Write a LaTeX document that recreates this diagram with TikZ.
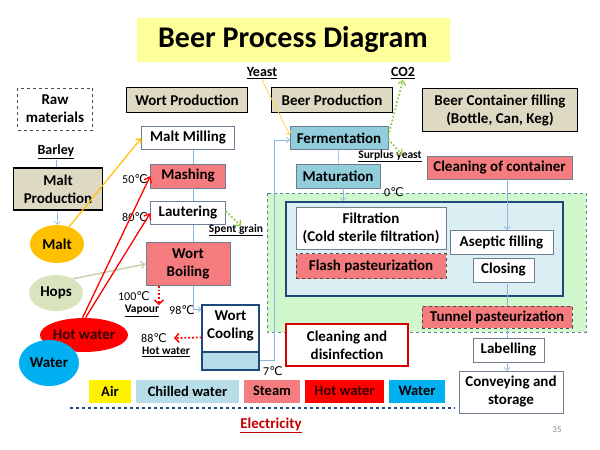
\documentclass[tikz,border=0pt]{standalone}
\usepackage{fontspec}
\setmainfont{Carlito}
\newfontfamily\dejavu{DejaVu Sans}
\usepackage{xcolor}
\usetikzlibrary{shapes.geometric}
\usetikzlibrary{positioning}
\usetikzlibrary{arrows.meta,calc}

\definecolor{tanfill}{RGB}{221,217,195}
\definecolor{steam}{RGB}{244,124,126}
\definecolor{fermblue}{RGB}{146,205,220}
\definecolor{chilled}{RGB}{183,222,232}
\definecolor{zonegreen}{RGB}{208,248,204}
\definecolor{sterilefill}{RGB}{219,238,244}
\definecolor{navy}{RGB}{31,73,125}
\definecolor{boxline}{RGB}{110,125,145}
\definecolor{flowblue}{RGB}{141,180,226}
\definecolor{maltorange}{RGB}{255,192,0}
\definecolor{hopsgreen}{RGB}{215,228,189}
\definecolor{hopsline}{RGB}{196,210,170}
\definecolor{waterblue}{RGB}{0,176,240}
\definecolor{titleyellow}{RGB}{255,255,153}
\definecolor{gasgreen}{RGB}{146,208,80}
\definecolor{elecred}{RGB}{192,0,0}

\newcommand{\degc}{{\dejavu ℃}}

\tikzset{
  every node/.style={font=\bfseries\fontsize{15}{18}\selectfont, align=center, inner sep=1pt},
  procbox/.style={draw=boxline, fill=white},
  stagebox/.style={draw=black, line width=1.6pt, fill=tanfill},
  steambox/.style={draw=boxline, fill=steam},
  pastbox/.style={draw=black!70, dashed, fill=steam},
  coldbox/.style={draw=boxline, fill=fermblue},
  ingr/.style={ellipse, inner sep=0pt},
  tag/.style={font=\bfseries\fontsize{11.5}{13}\selectfont},
  temp/.style={font=\fontsize{12}{13}\selectfont},
  keybox/.style={minimum height=23pt, font=\bfseries\fontsize{14.5}{17}\selectfont},
  flow/.style={draw=flowblue, line width=0.6pt, -{Straight Barb[length=3pt,width=6pt]}},
  hotline/.style={draw=red, line width=1.3pt, -{Straight Barb[length=5pt,width=8pt]}},
  vap/.style={draw=red, dotted, line width=1.8pt, -{Straight Barb[length=4pt,width=9pt,line width=1.5pt]}},
  gas/.style={draw=gasgreen, dotted, line width=1.8pt, -{Straight Barb[length=4pt,width=8pt,line width=1.3pt]}},
  coolbox/.style={draw=navy, line width=1.2pt, fill=white,
    path picture={\fill[chilled] ([yshift=18pt]path picture bounding box.south west) rectangle (path picture bounding box.south east);
      \draw[navy, line width=1.2pt] ([yshift=18pt]path picture bounding box.south west) -- ([yshift=18pt]path picture bounding box.south east);}}
}

\begin{document}
\begin{tikzpicture}[x=1pt,y=-1pt]
\useasboundingbox (0,0) rectangle (600,450);

% zones
\draw[draw=navy!70, dashed, line width=1pt, fill=zonegreen] (267,193) rectangle (586,332);
\node[draw=navy, line width=2.2pt, fill=sterilefill, minimum width=277pt, minimum height=94pt] (sterile) at (424.5,249) {};

\node[fill=titleyellow, minimum width=313pt, minimum height=44pt, font=\bfseries\fontsize{30}{34}\selectfont] (title) at (293,40) {Beer Process Diagram};
\node[font=\bfseries\fontsize{14}{16}\selectfont] (yeast) at (262,73) {\underline{Yeast}};
\node[font=\bfseries\fontsize{14}{16}\selectfont] (co2) at (403,73) {\underline{CO2}};

% headers
\node[draw=black!70, dashed, minimum width=75pt, minimum height=42pt] (raw) at (55,109) {Raw\\materials};
\node[stagebox, minimum width=121pt, minimum height=25pt] (wortprod) at (187,100) {Wort Production};
\node[stagebox, minimum width=121pt, minimum height=25pt] (beerprod) at (332,100) {Beer Production};
\node[stagebox, minimum width=155pt, minimum height=43pt] (container) at (500,110) {Beer Container filling\\(Bottle, Can, Keg)};

% raw materials
\node[font=\bfseries\fontsize{14}{16}\selectfont] (barley) at (56,152) {\underline{Barley}};
\node[stagebox, minimum width=89pt, minimum height=42pt] (maltprod) at (58,189) {Malt\\Production};
\node[ingr, fill=maltorange, minimum width=54pt, minimum height=38pt] (malt) at (57,244) {Malt};
\node[ingr, fill=hopsgreen, minimum width=54pt, minimum height=36pt] (hops) at (56,293) {Hops};
\node[ingr, fill=red, minimum width=74pt, minimum height=34pt, text=black!80!red] (hotwater) at (84,335) {Hot water};
\node[ingr, fill=waterblue, minimum width=60pt, minimum height=46pt] (water) at (49,363) {Water};

% wort production
\node[procbox, minimum width=93pt, minimum height=23pt] (milling) at (188,138) {Malt Milling};
\node[steambox, minimum width=75pt, minimum height=24pt] (mashing) at (188,176) {Mashing};
\node[procbox, minimum width=75pt, minimum height=23pt] (lautering) at (188,213) {Lautering};
\node[steambox, minimum width=84pt, minimum height=43pt] (boiling) at (188,264) {Wort\\Boiling};
\node[coolbox, minimum width=57pt, minimum height=65pt] (cooling) at (230.5,337.5) {};
\node (coolingtext) at (230.5,326) {Wort\\Cooling};

\node[temp] (t50) at (135,179) {50\degc};
\node[temp] (t80) at (135,217) {80\degc};
\node[temp] (t100) at (134,296) {100\degc};
\node[tag] (vapour) at (142,311) {\underline{Vapour}};
\node[temp] (t98) at (182,310) {98\degc};
\node[temp] (t88) at (154,338) {88\degc};
\node[tag] (hotout) at (166,352) {\underline{Hot water}};
\node[temp] (t7) at (273,371) {7\degc};
\node[tag] (spent) at (236,230) {\underline{Spent grain}};

% beer production
\node[coldbox, minimum width=98pt, minimum height=23pt] (fermentation) at (339,138) {Fermentation};
\node[coldbox, minimum width=84pt, minimum height=24pt] (maturation) at (338,176) {Maturation};
\node[tag] (surplus) at (390,156) {\underline{Surplus yeast}};
\node[temp] (t0) at (394,192) {0\degc};

\node[procbox, minimum width=150pt, minimum height=42pt] (filtration) at (371,228) {Filtration\\(Cold sterile filtration)};
\node[pastbox, minimum width=150pt, minimum height=25pt] (flash) at (371,266) {Flash pasteurization};
\node[procbox, minimum width=103pt, minimum height=24pt] (aseptic) at (501.5,242) {Aseptic filling};
\node[procbox, minimum width=61pt, minimum height=24pt] (closing) at (503.5,270) {Closing};
\node[pastbox, minimum width=150pt, minimum height=22pt] (tunnel) at (497,317) {Tunnel pasteurization};
\node[draw=red!85!black, line width=1.6pt, fill=white, minimum width=122pt, minimum height=42pt] (cleandis) at (347,345) {Cleaning and\\disinfection};

% container filling
\node[steambox, minimum width=145pt, minimum height=23pt] (cleancont) at (499.5,167.5) {Cleaning of container};
\node[procbox, minimum width=71pt, minimum height=24pt] (labelling) at (508.5,350) {Labelling};
\node[procbox, minimum width=104pt, minimum height=42pt] (conveying) at (511,392) {Conveying and\\storage};

% legend
\node[keybox, fill=yellow, minimum width=42pt] (kair) at (110,391) {Air};
\node[keybox, fill=chilled, minimum width=103pt] (kchilled) at (187.5,391) {Chilled water};
\node[keybox, fill=steam, minimum width=56pt] (ksteam) at (272,391) {Steam};
\node[keybox, fill=red, minimum width=79pt, text=black!80!red] (khot) at (344.5,391) {Hot water};
\node[keybox, fill=waterblue, minimum width=56pt] (kwater) at (417,391) {Water};
\coordinate (elecl) at (70,408);
\coordinate (elecr) at (455,408);
\draw[navy, dashed, line width=2pt] (elecl) -- (elecr);
\node[text=elecred] (elec) at (271,425) {\underline{Electricity}};
\node[font=\fontsize{9}{10}\selectfont, text=black!45] (page) at (557,430) {35};

% connectors
\coordinate (vapend) at (159,305);
\coordinate (hwend) at (174,338);
\coordinate (ret) at (274,360);
\coordinate (lane) at (507,0);
\coordinate (spentend) at (241,226);
\coordinate (surplusend) at (402,155);

\draw[flowblue, line width=0.6pt] (barley) -- (barley |- maltprod.north);
\draw[flow] (maltprod) -- (malt);
\draw[maltorange, line width=1.2pt, -{Straight Barb[length=4pt,width=7pt]}] (malt.55) -- (milling.west);
\draw[hopsline, line width=1.4pt, -{Straight Barb[length=4pt,width=7pt]}] (hops.40) -- (boiling.west);
\draw[hotline] (hotwater.95) -- (mashing.west);
\draw[hotline] (hotwater.85) -- (lautering.west);

\draw[flowblue, line width=0.6pt] ([xshift=5pt]milling.south) -- ([xshift=5pt]mashing.north);
\draw[flowblue, line width=0.6pt] ([xshift=5pt]mashing.south) -- ([xshift=5pt]lautering.north);
\draw[flowblue, line width=0.6pt] ([xshift=5pt]lautering.south) -- ([xshift=5pt]boiling.north);
\draw[flow] ([xshift=5pt]boiling.south) |- ([yshift=-5pt]cooling.north west);
\draw[vap] ([xshift=-29pt]boiling.south) -- (vapend);
\draw[vap] (cooling.west) -- (hwend);
\draw[gas] ([yshift=2pt]lautering.east) -- (spentend);
\draw[flow] ([yshift=-22.5pt]cooling.east) -- (ret) |- ([yshift=-2pt]fermentation.west);

\draw[maltorange!70, line width=0.8pt, -{Straight Barb[length=3pt,width=6pt]}] (yeast.south) -- ([yshift=3pt]fermentation.west);
\draw[gas] ([yshift=2pt]fermentation.east) -- (co2.south);
\draw[gas] ([yshift=-1pt]fermentation.east) -- (surplusend);
\draw[flowblue, line width=0.6pt] (fermentation) -- (maturation);
\draw[flow] ([xshift=5pt]maturation.south) -- ([xshift=5pt]maturation.south |- sterile.north);

\draw[flow] (cleancont.south -| lane) -- (aseptic.north -| lane);
\draw[flowblue, line width=0.6pt] (closing.south -| lane) -- (tunnel.north -| lane);
\draw[flowblue, line width=0.6pt] (tunnel.south -| lane) -- (labelling.north -| lane);
\draw[flow] (labelling.south -| lane) -- (conveying.north -| lane);
\end{tikzpicture}
\end{document}
